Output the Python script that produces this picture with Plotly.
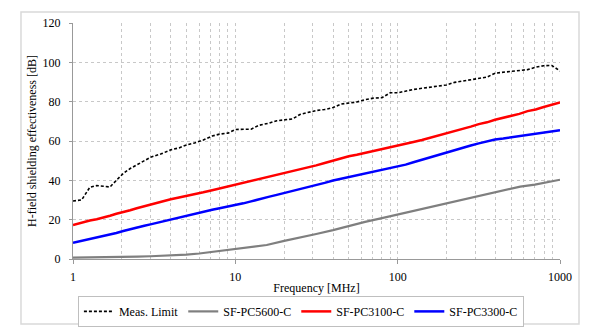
import plotly.graph_objects as go

freq = [1, 1.13, 1.27, 1.4, 1.54, 1.69, 1.85, 2.04, 2.25, 2.47, 2.75, 3, 3.5, 4, 4.5, 5, 5.6,
        6.35, 7.2, 8, 9, 10, 11.2, 12.5, 14, 16, 18, 20, 22.5, 25, 28, 31.5, 35.5, 40, 45, 50,
        56, 63, 71, 80, 90, 100, 112, 125, 141, 158, 178, 200, 224, 251, 282, 316, 355, 398,
        447, 501, 562, 631, 708, 794, 891, 1000]

meas_limit = [29.5, 30, 36.5, 37.3, 37, 36.6, 40, 43.5, 46, 47.8, 50, 51.7, 53.5, 55.5, 56.5,
              58, 59, 60.5, 62.5, 63.5, 64, 65.8, 66, 66, 68, 69, 70.3, 70.8, 71.2, 73.5, 74.5,
              75.5, 76, 77, 78.8, 79.2, 79.8, 81, 81.8, 82, 84.5, 84.5, 85.5, 86.2, 86.8, 87.3,
              88, 88.5, 89.8, 90.5, 91, 91.8, 92.5, 94.5, 95, 95.3, 95.8, 96.3, 97.5, 98.3, 98.4,
              95.6]

pc3100 = [17.3, 18.5, 19.6, 20.2, 21.0, 22.0, 23.0, 23.8, 24.8, 25.8, 26.9, 27.8, 29.2, 30.4,
          31.3, 32.0, 32.9, 33.9, 35.0, 35.9, 36.8, 37.9, 38.8, 39.6, 40.5, 41.6, 42.7, 43.6,
          44.7, 45.6, 46.6, 47.6, 48.8, 50.0, 51.2, 52.2, 53.0, 53.9, 54.9, 55.8, 56.8, 57.5,
          58.5, 59.5, 60.5, 61.6, 62.6, 63.7, 64.8, 66.0, 67.3, 68.6, 69.5, 70.8, 71.8, 72.5,
          73.8, 75.2, 76.0, 77.3, 78.5, 79.6]

pc3300 = [8.3, 9.2, 10.2, 11.0, 11.6, 12.4, 13.2, 14.2, 15.2, 16.1, 16.9, 17.6, 18.9, 20.2,
          21.3, 22.3, 23.2, 24.1, 25.0, 25.8, 26.6, 27.3, 28.3, 29.3, 30.5, 31.6, 32.6, 33.5,
          34.6, 35.5, 36.6, 37.6, 38.7, 39.9, 40.8, 41.6, 42.6, 43.6, 44.4, 45.3, 46.1, 46.9,
          48.0, 49.2, 50.5, 51.7, 53.0, 54.2, 55.3, 56.6, 57.7, 58.8, 59.8, 60.8, 61.3, 61.9,
          62.4, 62.9, 63.4, 64.0, 64.8, 65.5]

freq_5600 = [1, 1.5, 2, 2.5, 3, 4, 5, 6, 7, 8, 10, 12.5, 15.6, 20, 25, 31.5, 40, 50, 63, 80,
             100, 125, 166, 200, 266, 316, 427, 500, 569, 700, 850, 1000]
pc5600 = [0.7, 0.8, 1.0, 1.2, 1.4, 1.7, 2.2, 2.8, 3.5, 4.2, 5.1, 6.2, 7.1, 9.2, 10.8, 12.7,
          14.7, 16.8, 18.9, 20.8, 22.6, 24.6, 26.8, 28.3, 30.8, 32.1, 34.3, 35.5, 36.8, 37.8,
          39.0, 40.3]

x_ticks = [1, 10, 100, 1000]
y_ticks = [0, 20, 40, 60, 80, 100, 120]

fig = go.Figure()
fig.add_trace(go.Scatter(x=freq, y=meas_limit, mode="lines", name="Meas. Limit",
                         line=dict(color="black", width=1.6, dash="3px,2px")))
fig.add_trace(go.Scatter(x=freq_5600, y=pc5600, mode="lines", name="SF-PC5600-C",
                         line=dict(color="#7f7f7f", width=2.2)))
fig.add_trace(go.Scatter(x=freq, y=pc3100, mode="lines", name="SF-PC3100-C",
                         line=dict(color="#ff0000", width=2.5)))
fig.add_trace(go.Scatter(x=freq, y=pc3300, mode="lines", name="SF-PC3300-C",
                         line=dict(color="#0000ff", width=2.5)))

grid = "#c8c8c8"
gdash = "3px,3px"
minor_vals = [m * 10 ** e for e in range(3) for m in range(2, 10)]
serif = "Times New Roman"

fig.update_layout(
    width=600, height=336,
    margin=dict(l=73, r=40, t=23, b=77, autoexpand=False),
    paper_bgcolor="white", plot_bgcolor="white",
    font=dict(family=serif, size=12, color="black"),
    showlegend=True,
    legend=dict(orientation="h", x=0.468, xanchor="center", y=-0.222, yanchor="middle",
                bordercolor="#bfbfbf", borderwidth=1, font=dict(family=serif, size=12),
                itemwidth=30, tracegroupgap=0),
    shapes=[dict(type="rect", xref="paper", yref="paper", x0=-0.1068, x1=1.039,
                 y0=-0.2754, y1=1.0466, line=dict(color="#d9d9d9", width=1.5),
                 layer="below")],
)
fig.update_xaxes(type="log", range=[0, 3], tickvals=x_ticks, ticktext=[str(v) for v in x_ticks],
                 showgrid=True, gridcolor=grid, griddash=gdash, gridwidth=1,
                 minor=dict(tickvals=minor_vals, showgrid=True, gridcolor=grid, griddash=gdash,
                            gridwidth=1, ticks=""),
                 showline=True, linecolor="#999999", linewidth=1,
                 ticks="outside", ticklen=4, tickcolor="#999999", ticklabelstandoff=3,
                 tickfont=dict(family=serif, size=12),
                 title=dict(text="Frequency [MHz]", standoff=0, font=dict(family=serif, size=12)),
                 zeroline=False)
fig.update_yaxes(range=[0, 120], tickvals=y_ticks, showgrid=True, gridcolor=grid,
                 griddash=gdash, gridwidth=1,
                 showline=True, linecolor="#999999", linewidth=1,
                 ticks="outside", ticklen=3, tickcolor="#999999", ticklabelstandoff=6,
                 tickfont=dict(family=serif, size=12),
                 title=dict(text="H-field shielding effectiveness [dB]", standoff=3,
                            font=dict(family=serif, size=12)),
                 zeroline=False)

fig.write_html("out.html")
